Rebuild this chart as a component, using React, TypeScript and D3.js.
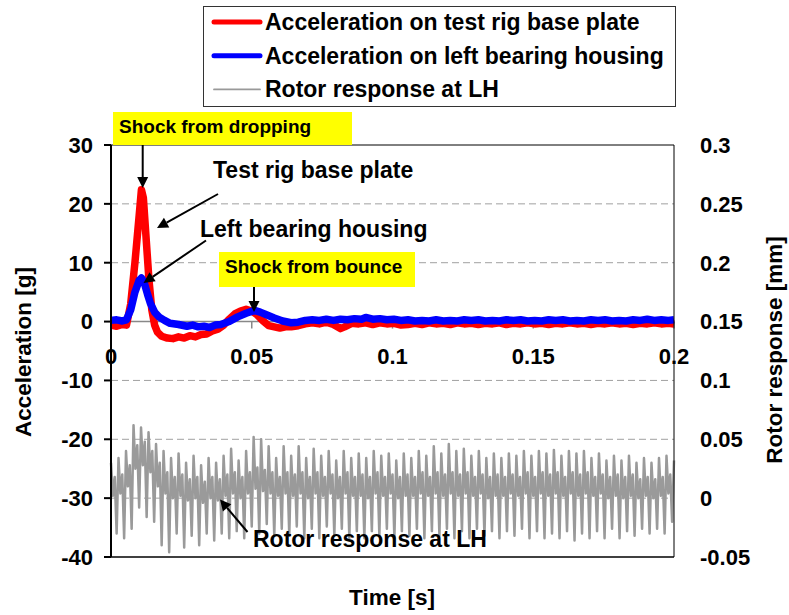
import * as d3 from "d3";

// time [s] / acceleration [g] samples
const basePlate: [number, number][] = [
  [0, -0.6], [0.002, -0.8], [0.004, -0.5], [0.0055, -0.6], [0.007, 3], [0.0085, 10],
  [0.01, 18], [0.0108, 22.4], [0.0115, 21], [0.0125, 14], [0.0135, 7], [0.0145, 2],
  [0.0155, -0.6], [0.0165, -1.8], [0.018, -2.5], [0.02, -2.8], [0.022, -2.9], [0.024, -2.6],
  [0.026, -2.8], [0.028, -2.4], [0.03, -2.6], [0.032, -2.2], [0.034, -2.1], [0.036, -1.6],
  [0.038, -1.3], [0.04, -0.6], [0.042, 0.4], [0.044, 1.3], [0.046, 1.8], [0.048, 2.1],
  [0.05, 1.8], [0.052, 1.1], [0.054, 0.1], [0.056, -0.7], [0.058, -0.9], [0.06, -1.1],
  [0.062, -0.9], [0.064, -0.9], [0.0665, -0.7], [0.069, -0.4], [0.0715, -0.2], [0.074, -0.4],
  [0.0765, -0.1], [0.079, -0.5], [0.0815, -1.2], [0.083, -0.9], [0.0855, -0.3], [0.088, -0.4],
  [0.0905, -0.2], [0.093, -0.5], [0.0955, -0.2], [0.098, -0.4], [0.1005, -0.3], [0.103, -0.6],
  [0.1055, -0.5], [0.108, -0.3], [0.1105, -0.5], [0.113, -0.2], [0.1155, -0.4], [0.118, -0.3],
  [0.1205, -0.5], [0.123, -0.2], [0.1255, -0.4], [0.128, -0.3], [0.1305, -0.5], [0.133, -0.3],
  [0.1355, -0.4], [0.138, -0.2], [0.1405, -0.5], [0.143, -0.3], [0.1455, -0.4], [0.148, -0.2],
  [0.1505, -0.4], [0.153, -0.3], [0.1555, -0.5], [0.158, -0.3], [0.1605, -0.4], [0.163, -0.2],
  [0.1655, -0.4], [0.168, -0.3], [0.1705, -0.5], [0.173, -0.3], [0.1755, -0.4], [0.178, -0.2],
  [0.1805, -0.4], [0.183, -0.3], [0.1855, -0.5], [0.188, -0.3], [0.1905, -0.4], [0.193, -0.2],
  [0.1955, -0.4], [0.198, -0.3], [0.2, -0.4],
];

const bearingHousing: [number, number][] = [
  [0, 0.2], [0.002, 0.3], [0.004, 0.1], [0.0055, 0.3], [0.007, 2], [0.0085, 5], [0.01, 7],
  [0.0108, 7.4], [0.0118, 6.6], [0.013, 4.6], [0.014, 3.1], [0.0155, 1.6], [0.017, 0.8],
  [0.019, 0.2], [0.021, -0.3], [0.024, -0.5], [0.027, -0.8], [0.029, -0.6], [0.031, -0.9],
  [0.033, -0.8], [0.035, -1.0], [0.037, -0.6], [0.039, -0.5], [0.042, 0.0], [0.045, 0.8],
  [0.048, 1.4], [0.051, 1.9], [0.053, 1.6], [0.055, 1.2], [0.058, 0.6], [0.061, 0.1],
  [0.064, -0.2], [0.0665, -0.1], [0.069, 0.2], [0.0715, 0.3], [0.074, 0.2], [0.0765, 0.4],
  [0.079, 0.2], [0.0815, 0.4], [0.084, 0.3], [0.0865, 0.5], [0.089, 0.4], [0.0905, 0.7],
  [0.093, 0.4], [0.0955, 0.5], [0.098, 0.3], [0.1005, 0.4], [0.103, 0.2], [0.1055, 0.3],
  [0.108, 0.1], [0.1105, 0.2], [0.113, 0.1], [0.1155, 0.3], [0.118, 0.1], [0.1205, 0.2],
  [0.123, 0.1], [0.1255, 0.3], [0.128, 0.2], [0.1305, 0.3], [0.133, 0.1], [0.1355, 0.2],
  [0.138, 0.1], [0.1405, 0.3], [0.143, 0.2], [0.1455, 0.3], [0.148, 0.1], [0.1505, 0.2],
  [0.153, 0.1], [0.1555, 0.3], [0.158, 0.2], [0.1605, 0.3], [0.163, 0.1], [0.1655, 0.2],
  [0.168, 0.1], [0.1705, 0.3], [0.173, 0.2], [0.1755, 0.3], [0.178, 0.1], [0.1805, 0.2],
  [0.183, 0.1], [0.1855, 0.3], [0.188, 0.2], [0.1905, 0.4], [0.193, 0.2], [0.1955, 0.3],
  [0.198, 0.2], [0.2, 0.3],
];

// rotor response [mm]: one row per shaft revolution (peak, mid, mid, trough)
const rotorCycles: number[][] = [
  [0.030, 0.002, 0.018, -0.030], [0.034, 0.004, 0.020, -0.034], [0.040, 0.010, 0.028, -0.026],
  [0.062, 0.025, 0.045, -0.008], [0.060, 0.028, 0.048, -0.016], [0.056, 0.022, 0.040, -0.020],
  [0.046, 0.010, 0.030, -0.040], [0.040, 0.004, 0.022, -0.046], [0.034, 0.000, 0.018, -0.030],
  [0.038, 0.002, 0.020, -0.042], [0.030, -0.002, 0.016, -0.032], [0.036, 0.000, 0.018, -0.040],
  [0.028, -0.004, 0.014, -0.030], [0.034, 0.000, 0.018, -0.036], [0.030, -0.002, 0.016, -0.030],
  [0.036, 0.002, 0.020, -0.034], [0.042, 0.004, 0.022, -0.028], [0.032, 0.000, 0.018, -0.034],
  [0.040, 0.004, 0.022, -0.024], [0.052, 0.008, 0.026, -0.030], [0.050, 0.006, 0.024, -0.022],
  [0.044, 0.004, 0.022, -0.032], [0.034, 0.002, 0.018, -0.026], [0.044, 0.004, 0.022, -0.032],
  [0.036, 0.002, 0.020, -0.024], [0.044, 0.004, 0.022, -0.034], [0.034, 0.000, 0.018, -0.026],
  [0.042, 0.004, 0.022, -0.034], [0.036, 0.002, 0.018, -0.024], [0.040, 0.004, 0.020, -0.032],
  [0.032, 0.000, 0.018, -0.026], [0.040, 0.004, 0.022, -0.034], [0.034, 0.002, 0.018, -0.028],
  [0.038, 0.002, 0.020, -0.034], [0.034, 0.000, 0.018, -0.028], [0.040, 0.004, 0.022, -0.032],
  [0.036, 0.002, 0.018, -0.026], [0.038, 0.004, 0.020, -0.034], [0.032, 0.000, 0.018, -0.028],
  [0.038, 0.002, 0.020, -0.032], [0.034, 0.002, 0.018, -0.026], [0.040, 0.004, 0.022, -0.034],
  [0.036, 0.002, 0.018, -0.028], [0.044, 0.004, 0.022, -0.032], [0.038, 0.002, 0.020, -0.026],
  [0.046, 0.004, 0.022, -0.034], [0.040, 0.002, 0.020, -0.028], [0.042, 0.004, 0.022, -0.034],
  [0.036, 0.002, 0.018, -0.026], [0.040, 0.004, 0.020, -0.032], [0.034, 0.000, 0.018, -0.028],
  [0.038, 0.002, 0.020, -0.034], [0.034, 0.002, 0.018, -0.028], [0.038, 0.004, 0.020, -0.032],
  [0.036, 0.002, 0.018, -0.026], [0.040, 0.004, 0.022, -0.034], [0.036, 0.002, 0.018, -0.028],
  [0.040, 0.004, 0.022, -0.034], [0.038, 0.002, 0.020, -0.030], [0.041, 0.004, 0.022, -0.034],
  [0.036, 0.002, 0.018, -0.028], [0.040, 0.004, 0.022, -0.036], [0.038, 0.002, 0.020, -0.030],
  [0.040, 0.004, 0.022, -0.034], [0.034, 0.002, 0.018, -0.028], [0.038, 0.004, 0.020, -0.034],
  [0.032, 0.000, 0.018, -0.026], [0.036, 0.002, 0.020, -0.034], [0.032, 0.000, 0.018, -0.028],
  [0.036, 0.002, 0.020, -0.032], [0.030, 0.000, 0.016, -0.026], [0.034, 0.002, 0.018, -0.030],
  [0.030, 0.000, 0.016, -0.026], [0.034, 0.002, 0.018, -0.030], [0.036, 0.004, 0.020, -0.020],
];

const accelTicks = [30, 20, 10, 0, -10, -20, -30, -40];
const rotorTicks = [0.3, 0.25, 0.2, 0.15, 0.1, 0.05, 0, -0.05];
const timeTicks = [0, 0.05, 0.1, 0.15, 0.2];
const gridValues = [20, 10, -10, -20, -30];

const legendItems = [
  { label: "Acceleration on test rig base plate", color: "#ff0000", width: 5 },
  { label: "Acceleration on left bearing housing", color: "#0000ff", width: 5 },
  { label: "Rotor response at LH", color: "#999999", width: 1.8 },
];

const font = "'Liberation Sans', Arial, sans-serif";

const left = 111;
const right = 674;
const top = 145;
const bottom = 557;

export default function App() {
  const x = d3.scaleLinear().domain([0, 0.2]).range([left, right]);
  const y = d3.scaleLinear().domain([-40, 30]).range([bottom, top]);
  const yr = d3.scaleLinear().domain([-0.05, 0.3]).range([bottom, top]);

  const accelLine = d3
    .line<[number, number]>()
    .x((d) => x(d[0]))
    .y((d) => y(d[1]));

  const period = 0.2 / rotorCycles.length;
  const rotorPoints: [number, number][] = [];
  rotorCycles.forEach((row, i) => {
    row.forEach((v, k) => rotorPoints.push([i * period + (k * period) / 4, v]));
  });
  rotorPoints.push([0.2, 0.032]);
  const rotorLine = d3
    .line<[number, number]>()
    .x((d) => x(d[0]))
    .y((d) => yr(d[1]));

  const arrow = (x1: number, y1: number, x2: number, y2: number, key: string) => {
    const a = Math.atan2(y2 - y1, x2 - x1);
    const len = 11;
    const half = 5.5;
    const bx = x2 - len * Math.cos(a);
    const by = y2 - len * Math.sin(a);
    const px = -Math.sin(a) * half;
    const py = Math.cos(a) * half;
    return (
      <g key={key}>
        <line x1={x1} y1={y1} x2={bx} y2={by} stroke="#000" strokeWidth={2} />
        <path d={`M${x2},${y2}L${bx + px},${by + py}L${bx - px},${by - py}Z`} fill="#000" />
      </g>
    );
  };

  return (
    <div style={{ position: "absolute", left: 0, top: 0 }}>
      <svg width={789} height={615} style={{ display: "block", background: "#fff" }} fontFamily={font} fontWeight="bold">
        {/* legend */}
        <rect x={203.5} y={6.5} width={472} height={100} fill="#fff" stroke="#333" strokeWidth={1} />
        {legendItems.map((item, i) => (
          <g key={item.label} transform={`translate(0,${22 + i * 33.7})`}>
            <line x1={214} x2={260} y1={0} y2={0} stroke={item.color} strokeWidth={item.width} strokeLinecap="round" />
            <text x={265} y={8} fontSize={23} fill="#000">
              {item.label}
            </text>
          </g>
        ))}

        {/* grid */}
        {gridValues.map((v) => (
          <line key={v} x1={left} x2={right} y1={y(v)} y2={y(v)} stroke="#a0a0a0" strokeWidth={1} strokeDasharray="7,4" />
        ))}

        {/* time axis at zero */}
        <line x1={left} x2={right} y1={y(0)} y2={y(0)} stroke="#888" strokeWidth={1.5} />
        {timeTicks.map((t) => (
          <line key={t} x1={x(t)} x2={x(t)} y1={y(0)} y2={y(0) + 7} stroke="#888" strokeWidth={1.5} />
        ))}

        {/* series */}
        <path d={rotorLine(rotorPoints) ?? ""} fill="none" stroke="#9a9a9a" strokeWidth={2.5} strokeLinejoin="round" />
        <path d={accelLine(basePlate) ?? ""} fill="none" stroke="#ff0000" strokeWidth={7.5} strokeLinejoin="round" />
        <path d={accelLine(bearingHousing) ?? ""} fill="none" stroke="#0000ff" strokeWidth={7.5} strokeLinejoin="round" />

        {/* frame */}
        <line x1={left} x2={right} y1={top} y2={top} stroke="#000" strokeWidth={1} />
        <line x1={right} x2={right} y1={top} y2={bottom} stroke="#000" strokeWidth={1} />
        <line x1={left} x2={right} y1={bottom} y2={bottom} stroke="#000" strokeWidth={1.5} />
        <line x1={left} x2={left} y1={top} y2={bottom} stroke="#000" strokeWidth={2} />
        {accelTicks.map((v) => (
          <line key={v} x1={left - 7} x2={left} y1={y(v)} y2={y(v)} stroke="#000" strokeWidth={2} />
        ))}

        {/* tick labels */}
        {accelTicks.map((v) => (
          <text key={v} x={93} y={y(v)} dy="0.36em" textAnchor="end" fontSize={22} fill="#000">
            {v}
          </text>
        ))}
        {rotorTicks.map((v) => (
          <text key={v} x={700} y={yr(v)} dy="0.36em" fontSize={22} fill="#000">
            {String(Number(v.toFixed(2)))}
          </text>
        ))}
        {timeTicks.map((t) => (
          <text key={t} x={x(t)} y={364} textAnchor="middle" fontSize={22} fill="#000">
            {String(Number(t.toFixed(2)))}
          </text>
        ))}

        {/* axis titles */}
        <text transform="translate(31,352) rotate(-90)" textAnchor="middle" fontSize={22.5} fill="#000">
          Acceleration [g]
        </text>
        <text transform="translate(782,350) rotate(-90)" textAnchor="middle" fontSize={22.5} fill="#000">
          Rotor response [mm]
        </text>
        <text x={392} y={605} textAnchor="middle" fontSize={22.5} fill="#000">
          Time [s]
        </text>

        {/* annotations */}
        <rect x={113} y={112} width={239} height={33} fill="#ffff00" />
        <text x={119} y={133} fontSize={19} fill="#000">
          Shock from dropping
        </text>
        <rect x={219} y={252} width={196} height={35} fill="#ffff00" />
        <text x={225} y={273} fontSize={19} fill="#000">
          Shock from bounce
        </text>
        <text x={213} y={178} fontSize={23} fill="#000">
          Test rig base plate
        </text>
        <text x={200} y={237} fontSize={23} fill="#000">
          Left bearing housing
        </text>
        <text x={253} y={547} fontSize={23} fill="#000">
          Rotor response at LH
        </text>
        {arrow(142.7, 145, 142.7, 188, "a1")}
        {arrow(218, 194, 157, 228, "a2")}
        {arrow(206, 240.5, 143.5, 283, "a3")}
        {arrow(254, 287, 254, 312, "a4")}
        {arrow(247.5, 532, 220, 499.5, "a5")}
      </svg>
    </div>
  );
}
